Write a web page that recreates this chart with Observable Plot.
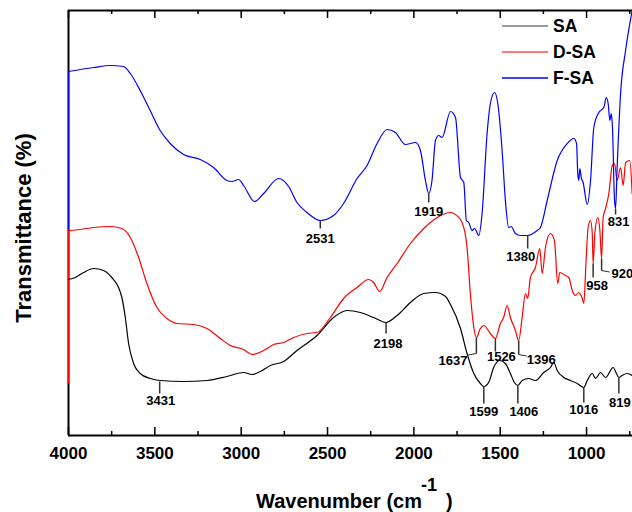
<!DOCTYPE html>
<html><head><meta charset="utf-8">
<script src="https://cdn.jsdelivr.net/npm/d3@7"></script>
<script src="https://cdn.jsdelivr.net/npm/@observablehq/plot@0.6"></script>
<style>html,body{margin:0;padding:0;background:#fff}svg{display:block}</style>
</head><body><div id="chart"></div>
<script>
// ---- data (x: wavenumber cm-1, y: transmittance, arbitrary offset units) ----
const saWn = [4000,3961,3913,3855,3797,3749,3710,3691,3671,3652,3623,3585,3527,3469,3334,3198,3082,2986,2937,2889,2831,2754,2677,2561,2465,2387,2310,2233,2161,2097,2020,1943,1875,1817,1788,1730,1692,1653,1615,1595,1567,1538,1503,1470,1441,1418,1398,1373,1335,1296,1248,1209,1190,1170,1132,1093,1054,1016,996,967,948,919,890,846,827,813,794,765,734];
const saT  = [156,158,163,167,165,158,148,138,118,92,72,62,57,55,54,55,59,63,61,64,70,74,85,100,118,125,123,118,113,120,133,142,143,139,131,107,82,62,52,49,53,68,75,72,62,53,50,55,57,55,63,68,73,65,58,55,52,48,55,62,57,63,58,68,62,58,60,62,60];

const dsaWn = [4000,3932,3855,3758,3691,3642,3594,3546,3488,3430,3372,3276,3198,3121,3063,2986,2937,2870,2812,2754,2696,2619,2561,2484,2407,2329,2262,2233,2198,2155,2097,2020,1943,1865,1788,1769,1721,1692,1673,1653,1638,1615,1595,1557,1528,1499,1480,1460,1441,1412,1393,1373,1354,1341,1325,1296,1271,1257,1238,1209,1186,1167,1155,1122,1103,1083,1064,1045,1025,1016,1002,991,977,967,962,952,935,923,913,904,890,871,851,838,823,803,788,774,750,736];
const dsaT  = [205,206,208,209,207,198,178,152,128,117,112,111,107,97,90,86,81,85,91,93,98,102,103,118,137,148,156,153,144,158,172,192,207,218,223,222,213,188,142,108,98,107,110,102,97,112,118,130,118,105,95,118,142,137,158,168,187,162,188,202,195,152,163,160,158,145,140,143,137,132,178,208,215,202,172,202,218,205,177,218,227,242,270,272,255,268,250,273,275,242];

const fsaWn = [4000,3855,3758,3681,3642,3585,3527,3469,3411,3334,3237,3160,3082,3053,3015,2986,2922,2870,2783,2725,2677,2619,2542,2465,2407,2329,2271,2213,2155,2107,2049,1991,1962,1933,1914,1895,1875,1856,1837,1788,1759,1730,1711,1696,1682,1663,1648,1624,1605,1576,1557,1533,1514,1489,1470,1451,1437,1412,1383,1341,1286,1267,1228,1170,1112,1074,1058,1051,1045,1039,1031,1020,996,977,958,929,900,886,875,865,857,850,838,832,823,803,774,736];
const fsaT  = [364,368,370,369,362,345,325,305,292,281,276,268,255,254,256,250,234,242,257,249,233,223,215,220,232,257,270,292,306,303,291,293,285,255,242,255,295,300,298,324,318,258,253,215,213,205,207,200,222,302,332,343,332,285,235,208,209,202,200,200,205,208,235,275,292,297,292,262,255,267,258,253,231,255,308,323,328,338,332,315,322,308,235,227,268,342,385,425];

const seriesNames = ["SA", "D-SA", "F-SA"];
const seriesColors = ["#000000", "#ff0000", "#0000ff"];
const legendColors = ["#7a7a7a", "#ff4a4a", "#0000ff"];

// vertical start segments of the traces at 4000 cm-1
const startTop = [364, 205];
const startBottom = [205, 52];
const startColors = ["#0000ff", "#ff0000"];

// peak annotations
const peakLabels = ["2531","1919","1380","831","958","920","1637","1526","1396","3431","2198","1599","1406","1016","819"];
const peakWn     = [2542,1914,1341,832,962,913,1638,1528,1393,3472,2161,1595,1398,1016,813];
const peakT      = [215,242,200,227,172,177,98,97,95,54,113,49,50,48,58];

const majorTicks = [4000,3500,3000,2500,2000,1500,1000];
const minorTicks = [3750,3250,2750,2250,1750,1250,750];

// ---- styles / layout ----
const peakStyle = [
  {len:8,  dx:0,  dy:10, anchor:"middle"},
  {len:9,  dx:0,  dy:9,  anchor:"middle"},
  {len:13, dx:-7, dy:8,  anchor:"middle"},
  {len:6,  dx:3,  dy:7,  anchor:"middle"},
  {len:14, dx:4,  dy:8,  anchor:"middle"},
  {len:12, dx:10, dy:3,  anchor:"start", leader:8},
  {len:16, dx:-9, dy:7,  anchor:"end",   leader:-8},
  {len:13, dx:6,  dy:5,  anchor:"middle"},
  {len:14, dx:8,  dy:5,  anchor:"start", leader:8},
  {len:12, dx:1,  dy:7,  anchor:"middle"},
  {len:11, dx:2,  dy:10, anchor:"middle"},
  {len:17, dx:0,  dy:8,  anchor:"middle"},
  {len:18, dx:6,  dy:8,  anchor:"middle"},
  {len:15, dx:0,  dy:7,  anchor:"middle"},
  {len:16, dx:1,  dy:9,  anchor:"middle"}
];

const W = 632, H = 512, mL = 68, mR = 0, mT = 10, mB = 77;
const xDomain = [4000, 734];
const wnPerPx = (xDomain[0] - xDomain[1]) / (W - mL - mR);

const toRows = (wn, t) => wn.map((w, i) => ({wn: w, t: t[i]}));
const curves = [toRows(saWn, saT), toRows(dsaWn, dsaT), toRows(fsaWn, fsaT)];

const peaks = peakLabels.map((l, i) => ({label: l, wn: peakWn[i], t: peakT[i], ...peakStyle[i]}));
const starts = startTop.map((t, i) => ({top: t, bottom: startBottom[i], color: startColors[i]}));

const font = "'Liberation Sans', Arial, Helvetica, sans-serif";

const marks = [
  // frame
  Plot.ruleY([0], {strokeWidth: 2}),
  Plot.ruleY([425], {strokeWidth: 2}),
  Plot.ruleX([4000], {strokeWidth: 2}),
  Plot.ruleX(starts, {x: () => 4000, y1: "top", y2: "bottom", stroke: d => d.color, strokeWidth: 1.2}),
  // inward ticks bottom/top
  Plot.ruleX(majorTicks, {x: d => d, y1: 0, y2: 8, strokeWidth: 1.5}),
  Plot.ruleX(minorTicks, {x: d => d, y1: 0, y2: 4, strokeWidth: 1.5}),
  Plot.ruleX(majorTicks, {x: d => d, y1: 425, y2: 417, strokeWidth: 1.5}),
  Plot.ruleX(minorTicks, {x: d => d, y1: 425, y2: 421, strokeWidth: 1.5}),
  Plot.axisX({ticks: majorTicks, tickSize: 0, tickPadding: 11, tickFormat: d => String(d),
              fontSize: 17, fontWeight: "bold", label: null, fill: "black"}),
  // curves
  ...curves.map((rows, i) => Plot.line(rows, {x: "wn", y: "t", stroke: seriesColors[i], strokeWidth: 1.2, curve: "monotone-x"})),
  // peak ticks
  Plot.link(peaks, {x1: "wn", x2: "wn", y1: "t", y2: d => d.t - d.len, stroke: "#333", strokeWidth: 1.5}),
  Plot.link(peaks.filter(p => p.leader), {x1: "wn", x2: d => d.wn - d.leader * wnPerPx,
      y1: d => d.t - d.len, y2: d => d.t - d.len - 1.5, stroke: "#333", strokeWidth: 1.2}),
  ...peaks.map(p => Plot.text([p], {x: "wn", y: d => d.t - d.len, text: "label", dx: p.dx, dy: p.dy,
      textAnchor: p.anchor, lineAnchor: "middle", fontSize: 13, fontWeight: "bold", fill: "black"}))
];

const svg = Plot.plot({
  width: W, height: H,
  marginLeft: mL, marginRight: mR, marginTop: mT, marginBottom: mB,
  x: {domain: xDomain},
  y: {domain: [0, 425], axis: null},
  style: {fontFamily: font, background: "white", overflow: "hidden"},
  marks
});
document.getElementById("chart").appendChild(svg);

// axis titles and legend
const s = d3.select(svg);
s.append("text")
  .attr("transform", "translate(23,228) rotate(-90)")
  .attr("text-anchor", "middle").attr("dominant-baseline", "central")
  .attr("font-family", font).attr("font-size", 22).attr("font-weight", "bold")
  .text("Transmittance (%)");
const xt = s.append("text").attr("font-family", font).attr("font-weight", "bold").attr("font-size", 20)
  .attr("text-anchor", "start");
xt.append("tspan").attr("x", 256).attr("y", 507.7).text("Wavenumber (cm");
xt.append("tspan").attr("x", 421).attr("y", 490.7).attr("font-size", 18).text("-1");
xt.append("tspan").attr("x", 446).attr("y", 507.7).text(")");

const legendY = [26, 52, 78];
seriesNames.forEach((n, i) => {
  s.append("line").attr("x1", 502).attr("x2", 548).attr("y1", legendY[i]).attr("y2", legendY[i])
    .attr("stroke", legendColors[i]).attr("stroke-width", 1.5);
  s.append("text").attr("x", 553).attr("y", legendY[i]).attr("dominant-baseline", "central")
    .attr("text-anchor", "start")
    .attr("font-family", font).attr("font-size", 17.5).attr("font-weight", "bold").text(n);
});
</script>
</body></html>
